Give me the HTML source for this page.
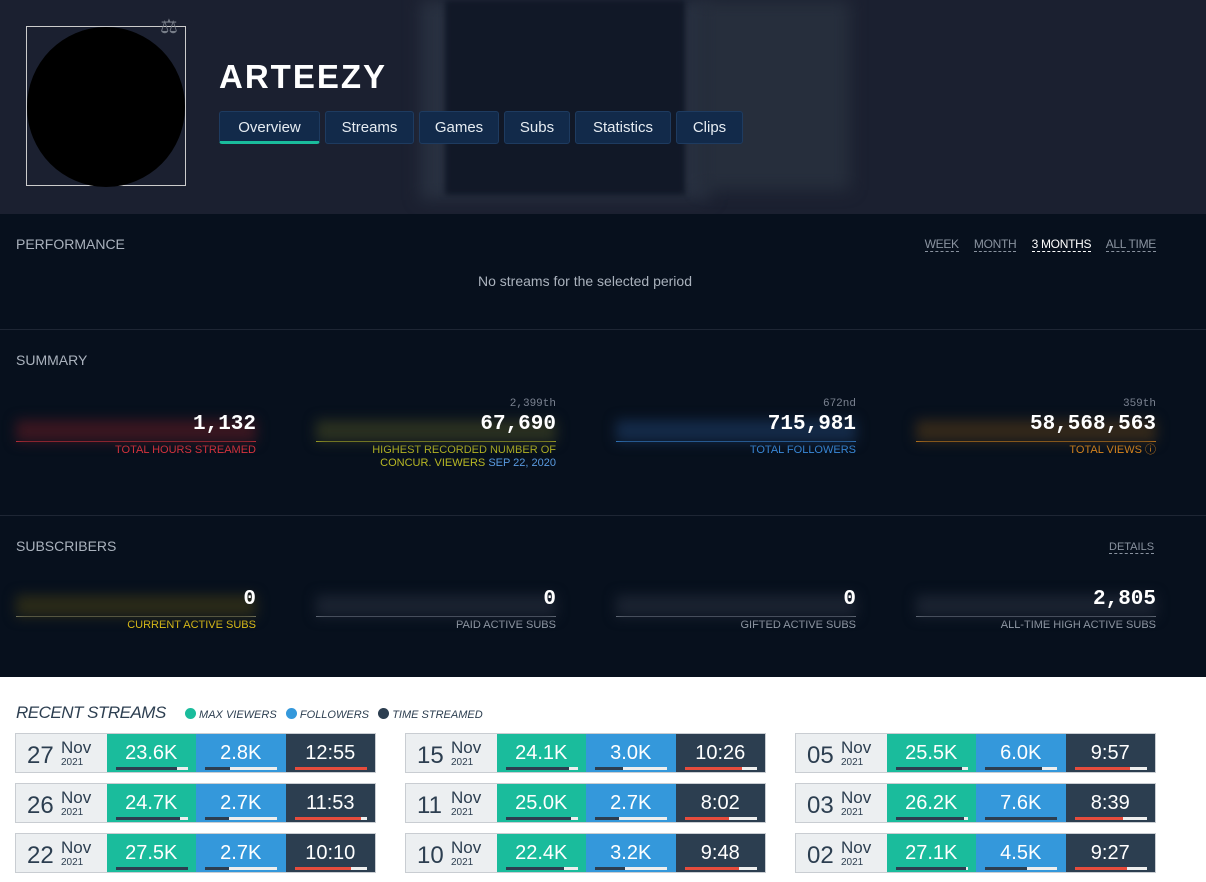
<!DOCTYPE html>
<html><head><meta charset="utf-8"><style>
*{margin:0;padding:0;box-sizing:border-box}
body{width:1206px;height:882px;overflow:hidden;background:#fff;font-family:"Liberation Sans",sans-serif;position:relative}
.abs{position:absolute}
.hdr{left:0;top:0;width:1206px;height:214px;background:#1b2030;overflow:hidden}
.dark{background:#07101d;left:0;width:1206px}
.ttl{color:#aab2bd;font-size:14px;position:absolute;left:16px}
.tab{position:absolute;top:111px;height:33px;background:#122a4a;border:1px solid #1e3b60;border-radius:3px;color:#e6ecf2;font-size:15px;text-align:center;line-height:31px}
.stat{position:absolute;width:240px;text-align:right}
.stat .glow{position:absolute;left:0;right:0;top:6px;height:22px;filter:blur(6px)}
.stat .num{position:relative;font-family:"Liberation Mono",monospace;font-weight:bold;color:#fff;font-size:21px;height:22px;line-height:22px}
.stat .ln{height:1px;margin-top:5px}
.stat .lb{font-size:11px;margin-top:2px;line-height:13px}
.rank{font-family:"Liberation Mono",monospace;color:#7a8290;font-size:11px;position:absolute;right:0;top:-16px}
.card{position:absolute;width:361px;height:40px;border:1px solid #c9cdd2;display:flex}
.d{width:91px;background:#eceff1;position:relative;color:#2c3e50}
.d .n{position:absolute;left:11px;top:8px;font-size:24px}
.d .m{position:absolute;left:45px;top:4px;font-size:17px}
.d .y{position:absolute;left:45px;top:23px;font-size:10px}
.c{width:90px;position:relative;color:#fff;font-size:20px;text-align:center;line-height:38px}
.c .b{position:absolute;left:9px;top:33px;width:72px;height:3px;background:#eee}
.c .b i{display:block;height:3px}
</style></head><body>
<div class="abs hdr">
 <div class="abs" style="left:420px;top:0;width:290px;height:200px;background:#283040;filter:blur(8px)"></div>
 <div class="abs" style="left:445px;top:0;width:240px;height:195px;background:#111827;filter:blur(3px)"></div>
 <div class="abs" style="left:700px;top:0;width:150px;height:190px;background:#262e3c;filter:blur(8px)"></div>
 <div class="abs" style="left:26px;top:26px;width:160px;height:160px;border:1px solid #ccc"></div>
 <div class="abs" style="left:27px;top:27px;width:158px;height:160px;border-radius:50%;background:#000"></div>
 <div class="abs" style="left:160px;top:14px;color:#777d88;font-size:20px">⚖</div>
 <div class="abs" style="left:219px;top:58px;color:#fff;font-size:33px;font-weight:bold;letter-spacing:2px">ARTEEZY</div>
 <div class="tab" style="left:219px;width:101px;border-bottom:3px solid #1abc9c">Overview</div>
 <div class="tab" style="left:325px;width:89px">Streams</div>
 <div class="tab" style="left:419px;width:80px">Games</div>
 <div class="tab" style="left:504px;width:66px">Subs</div>
 <div class="tab" style="left:575px;width:96px">Statistics</div>
 <div class="tab" style="left:676px;width:67px">Clips</div>
</div>
<div class="abs dark" style="top:214px;height:115px">
 <div class="ttl" style="top:22px">PERFORMANCE</div>
 <div class="abs" style="right:50px;top:23px;font-size:12px;color:#8a93a0;white-space:nowrap;letter-spacing:-0.3px;text-align:right">
  <span style="border-bottom:1px dashed #8a93a0">WEEK</span>&nbsp;&nbsp;&nbsp;&nbsp;
  <span style="border-bottom:1px dashed #8a93a0">MONTH</span>&nbsp;&nbsp;&nbsp;&nbsp;
  <span style="border-bottom:1px dashed #fff;color:#fff">3 MONTHS</span>&nbsp;&nbsp;&nbsp;&nbsp;
  <span style="border-bottom:1px dashed #8a93a0">ALL TIME</span></div>
 <div class="abs" style="left:0;width:1170px;top:59px;text-align:center;color:#aab2bd;font-size:14px">No streams for the selected period</div>
</div>
<div class="abs" style="top:329px;left:0;width:1206px;height:1px;background:#1e2634"></div>
<div class="abs dark" style="top:330px;height:185px">
 <div class="ttl" style="top:22px">SUMMARY</div>
 <div class="stat" style="left:16px;top:84px"><div class="glow" style="background:#3a1620"></div><div class="num">1,132</div><div class="ln" style="background:#e0353f"></div><div class="lb" style="color:#e0353f">TOTAL HOURS STREAMED</div></div>
 <div class="stat" style="left:316px;top:84px"><div class="rank">2,399th</div><div class="glow" style="background:#2a3020"></div><div class="num">67,690</div><div class="ln" style="background:#c2c226"></div><div class="lb" style="color:#b8b824">HIGHEST RECORDED NUMBER OF<br>CONCUR. VIEWERS <span style="color:#5a9be0">SEP 22, 2020</span></div></div>
 <div class="stat" style="left:616px;top:84px"><div class="rank">672nd</div><div class="glow" style="background:#142a48"></div><div class="num">715,981</div><div class="ln" style="background:#3b8ee0"></div><div class="lb" style="color:#3b8ee0">TOTAL FOLLOWERS</div></div>
 <div class="stat" style="left:916px;top:84px"><div class="rank">359th</div><div class="glow" style="background:#33281a"></div><div class="num">58,568,563</div><div class="ln" style="background:#e08a1e"></div><div class="lb" style="color:#e08a1e">TOTAL VIEWS ⓘ</div></div>
</div>
<div class="abs" style="top:515px;left:0;width:1206px;height:1px;background:#1e2634"></div>
<div class="abs dark" style="top:516px;height:161px">
 <div class="ttl" style="top:22px">SUBSCRIBERS</div>
 <div class="abs" style="left:1109px;top:25px;font-size:11px;color:#8a93a0;border-bottom:1px dashed #8a93a0">DETAILS</div>
 <div class="stat" style="left:16px;top:73px"><div class="glow" style="background:#2a2a18"></div><div class="num">0</div><div class="ln" style="background:#8a8a70"></div><div class="lb" style="color:#e6c619">CURRENT ACTIVE SUBS</div></div>
 <div class="stat" style="left:316px;top:73px"><div class="glow" style="background:#1a2230"></div><div class="num">0</div><div class="ln" style="background:#7a828e"></div><div class="lb" style="color:#9aa2ae">PAID ACTIVE SUBS</div></div>
 <div class="stat" style="left:616px;top:73px"><div class="glow" style="background:#1a2230"></div><div class="num">0</div><div class="ln" style="background:#7a828e"></div><div class="lb" style="color:#9aa2ae">GIFTED ACTIVE SUBS</div></div>
 <div class="stat" style="left:916px;top:73px"><div class="glow" style="background:#1a2230"></div><div class="num">2,805</div><div class="ln" style="background:#7a828e"></div><div class="lb" style="color:#9aa2ae">ALL-TIME HIGH ACTIVE SUBS</div></div>
</div>
<div class="abs" style="left:16px;top:703px;font-size:17px;font-style:italic;color:#2c3e50;letter-spacing:-0.5px">RECENT STREAMS</div>
<div class="abs" style="left:185px;top:708px;font-size:11px;font-style:italic;color:#2c3e50;white-space:nowrap">
<span style="display:inline-block;width:11px;height:11px;border-radius:50%;background:#1abc9c;vertical-align:-1px"></span> MAX VIEWERS &nbsp;
<span style="display:inline-block;width:11px;height:11px;border-radius:50%;background:#3498db;vertical-align:-1px"></span> FOLLOWERS &nbsp;
<span style="display:inline-block;width:11px;height:11px;border-radius:50%;background:#2c3e50;vertical-align:-1px"></span> TIME STREAMED</div>
<div id="cards"></div>
<script>
var D=[["27","23.6K",85,"2.8K",35,"12:55",100],["26","24.7K",90,"2.7K",34,"11:53",92],["22","27.5K",100,"2.7K",34,"10:10",78],
["15","24.1K",88,"3.0K",39,"10:26",80],["11","25.0K",91,"2.7K",34,"8:02",62],["10","22.4K",81,"3.2K",42,"9:48",75],
["05","25.5K",93,"6.0K",79,"9:57",77],["03","26.2K",95,"7.6K",100,"8:39",67],["02","27.1K",98,"4.5K",59,"9:27",73]];
var h="";D.forEach(function(r,i){var col=Math.floor(i/3),row=i%3;var x=15+col*390,y=733+row*50;
h+='<div class="card" style="left:'+x+'px;top:'+y+'px"><div class="d"><span class="n">'+r[0]+'</span><span class="m">Nov</span><span class="y">2021</span></div>'+
'<div class="c" style="background:#1abc9c">'+r[1]+'<div class="b"><i style="width:'+r[2]+'%;background:#2c3e50"></i></div></div>'+
'<div class="c" style="background:#3498db">'+r[3]+'<div class="b"><i style="width:'+r[4]+'%;background:#2c3e50"></i></div></div>'+
'<div class="c" style="background:#2c3e50">'+r[5]+'<div class="b"><i style="width:'+r[6]+'%;background:#e74c3c"></i></div></div></div>';});
document.getElementById("cards").innerHTML=h;
</script>
</body></html>
